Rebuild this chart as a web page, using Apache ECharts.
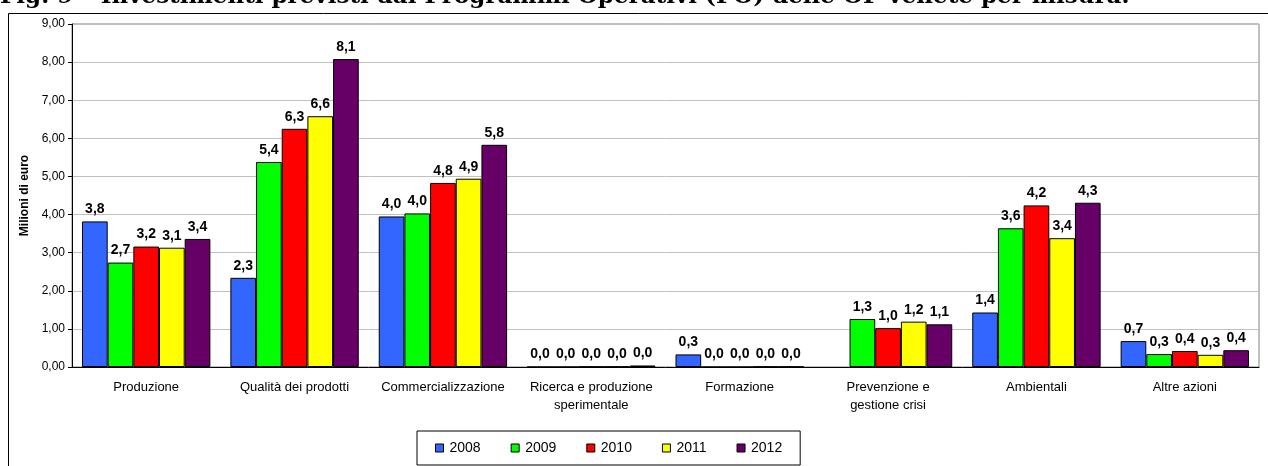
<!DOCTYPE html>
<html>
<head>
<meta charset="utf-8">
<script src="https://cdn.jsdelivr.net/npm/echarts@6/dist/echarts.min.js"></script>
<style>
  html, body { margin: 0; padding: 0; background: #fff; }
  #chart { width: 1268px; height: 466px; }
</style>
</head>
<body>
<div id="chart"></div>
<script>
  // misure (categorie)
  var categories = ['Produzione', 'Qualità dei prodotti', 'Commercializzazione',
    'Ricerca e produzione\nsperimentale', 'Formazione', 'Prevenzione e\ngestione crisi',
    'Ambientali', 'Altre azioni'];
  var years = ['2008', '2009', '2010', '2011', '2012'];
  // milioni di euro
  var v2008 = [3.82, 2.34, 3.95, 0.00, 0.33, null, 1.43, 0.68];
  var v2009 = [2.74, 5.38, 4.03, 0.00, 0.00, 1.26, 3.64, 0.34];
  var v2010 = [3.16, 6.25, 4.83, 0.01, 0.00, 1.02, 4.24, 0.42];
  var v2011 = [3.13, 6.58, 4.94, 0.01, 0.01, 1.19, 3.38, 0.32];
  var v2012 = [3.36, 8.08, 5.83, 0.04, 0.01, 1.12, 4.31, 0.44];
  var colorList = ['#3366ff', '#00ff00', '#ff0000', '#ffff00', '#660066'];

  var allData = [v2008, v2009, v2010, v2011, v2012];
  var seriesData = [];
  for (var i = 0; i < years.length; i++) {
    seriesData.push({
      name: years[i],
      type: 'bar',
      data: allData[i],
      barGap: '0%',
      barCategoryGap: '13.5%',
      itemStyle: { color: colorList[i], borderColor: '#000', borderWidth: 1 },
      label: {
        show: true,
        position: 'top',
        distance: 5,
        color: '#000',
        fontFamily: 'Liberation Sans',
        fontWeight: 'bold',
        fontSize: 14,
        formatter: function (p) {
          return p.value == null ? '' : p.value.toFixed(1).replace('.', ',');
        }
      }
    });
  }

  var chart = echarts.init(document.getElementById('chart'));
  chart.setOption({
    animation: false,
    textStyle: { fontFamily: 'Liberation Sans' },
    graphic: [
      {
        type: 'rect',
        shape: { x: 8.5, y: 13.5, width: 1300, height: 500 },
        style: { fill: 'none', stroke: '#000', lineWidth: 1 },
        silent: true
      },
      {
        type: 'text',
        left: 0,
        top: -14,
        style: {
          text: 'Fig. 9 – Investimenti previsti dai Programmi Operativi (PO) delle OP venete per misura.',
          font: 'bold 23px "DejaVu Serif"',
          fill: '#000'
        }
      }
    ],
    grid: {
      left: 72, right: 9, top: 24, bottom: 99,
      show: true, borderColor: '#808080', borderWidth: 1
    },
    legend: {
      data: years,
      left: 417, top: 431,
      padding: [10, 18, 10, 18],
      itemWidth: 8, itemHeight: 8, itemGap: 30,
      icon: 'rect',
      borderColor: '#000', borderWidth: 1,
      itemStyle: { borderColor: '#000', borderWidth: 1 },
      textStyle: { fontSize: 14, color: '#000', fontFamily: 'Liberation Sans', padding: [0, 0, 0, 1] }
    },
    xAxis: {
      type: 'category',
      data: categories,
      axisLine: { lineStyle: { color: '#000' } },
      axisTick: { length: 5, lineStyle: { color: '#000' } },
      axisLabel: { color: '#000', fontSize: 13, margin: 11, lineHeight: 18, interval: 0 }
    },
    yAxis: {
      type: 'value',
      min: 0, max: 9, interval: 1,
      name: 'Milioni di euro',
      nameLocation: 'middle',
      nameGap: 34,
      nameTextStyle: { fontSize: 12, fontWeight: 'bold', color: '#000' },
      axisLine: { show: true, lineStyle: { color: '#000' } },
      axisTick: { show: true, length: 4, lineStyle: { color: '#000' } },
      splitLine: { lineStyle: { color: '#c0c0c0' } },
      axisLabel: {
        color: '#000', fontSize: 12, margin: 7,
        formatter: function (value) { return value.toFixed(2).replace('.', ','); }
      }
    },
    series: seriesData
  });
</script>
</body>
</html>
